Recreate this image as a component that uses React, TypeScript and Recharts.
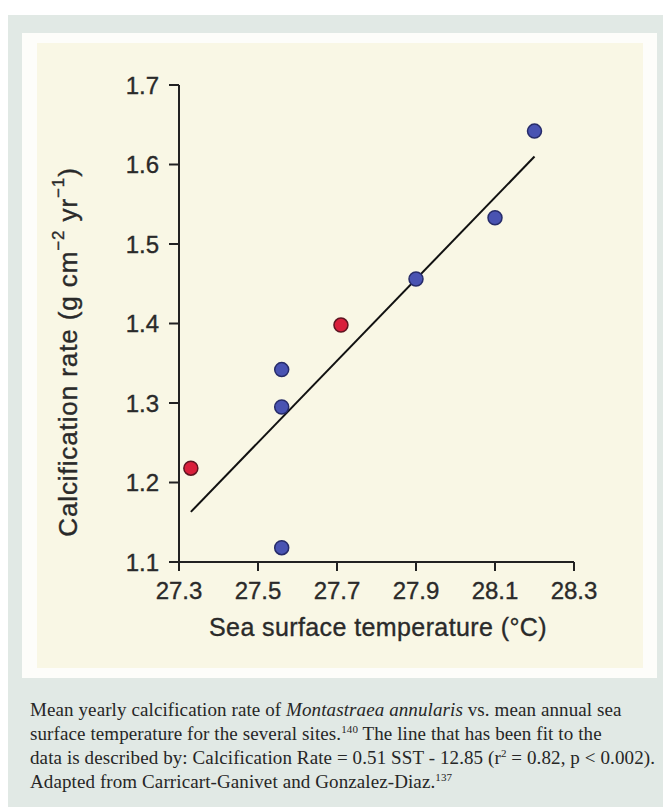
import { ScatterChart, Scatter, XAxis, YAxis, ReferenceLine } from "recharts";

// site values
const sstBlue = [27.56, 27.56, 27.56, 27.9, 28.1, 28.2];
const rateBlue = [1.342, 1.295, 1.118, 1.456, 1.533, 1.642];
const sstRed = [27.33, 27.71];
const rateRed = [1.218, 1.398];
// ends of the fitted line
const fitSst = [27.33, 28.2];
const fitRate = [1.163, 1.61];

const xTicks = [27.3, 27.5, 27.7, 27.9, 28.1, 28.3];
const yTicks = [1.1, 1.2, 1.3, 1.4, 1.5, 1.6, 1.7];

const blueData = sstBlue.map((x, i) => ({ x, y: rateBlue[i] }));
const redData = sstRed.map((x, i) => ({ x, y: rateRed[i] }));

const axisFont = "'Liberation Sans', Arial, sans-serif";
const ink = "#2a2a2a";

const dot = (fill: string, stroke: string) => (p: any) =>
  <circle cx={p.cx} cy={p.cy} r={7} fill={fill} stroke={stroke} strokeWidth={1.5} />;

const yTitle = () => (
  <text
    x={31}
    y={309}
    transform="rotate(-90 31 309)"
    textAnchor="middle"
    dominantBaseline="central"
    fontFamily={axisFont}
    fontSize={26}
    letterSpacing={0.9}
    fill={ink}
    stroke={ink}
    strokeWidth={0.35}
  >
    Calcification rate (g cm
    <tspan dy={-10} fontSize={17}>−2</tspan>
    <tspan dy={10}> yr</tspan>
    <tspan dy={-10} fontSize={17}>−1</tspan>
    <tspan dy={10}>)</tspan>
  </text>
);

const xTitle = () => (
  <text
    x={341}
    y={593}
    textAnchor="middle"
    fontFamily={axisFont}
    fontSize={25}
    letterSpacing={0.4}
    fill={ink}
    stroke={ink}
    strokeWidth={0.35}
  >
    Sea surface temperature (°C)
  </text>
);

const tickStyle = { fill: ink, stroke: ink, strokeWidth: 0.35, fontSize: 24, fontFamily: axisFont };

export default function App() {
  return (
    <div style={{ position: "absolute", left: 0, top: 0, width: 663, height: 807, background: "#fff" }}>
      <div style={{ position: "absolute", left: 8, top: 15, width: 655, height: 792, background: "#e1e9e5" }} />
      <div style={{ position: "absolute", left: 22, top: 33, width: 635, height: 645, background: "#fdfdfa" }} />
      <div style={{ position: "absolute", left: 37, top: 43, width: 606, height: 625, background: "#f9f7e5" }}>
        <ScatterChart width={606} height={625} margin={{ top: 42, right: 69, bottom: 26, left: 27 }}>
          <XAxis
            type="number"
            dataKey="x"
            domain={[27.3, 28.3]}
            ticks={xTicks}
            tickFormatter={(v: number) => v.toFixed(1)}
            height={80}
            tickSize={9}
            tickMargin={11}
            axisLine={{ stroke: "#222", strokeWidth: 2 }}
            tickLine={{ stroke: "#222", strokeWidth: 2 }}
            tick={tickStyle}
            label={xTitle}
          />
          <YAxis
            type="number"
            dataKey="y"
            domain={[1.1, 1.7]}
            ticks={yTicks}
            tickFormatter={(v: number) => v.toFixed(1)}
            width={115}
            tickSize={10}
            tickMargin={10}
            axisLine={{ stroke: "#222", strokeWidth: 2 }}
            tickLine={{ stroke: "#222", strokeWidth: 2 }}
            tick={tickStyle}
            label={yTitle}
          />
          <ReferenceLine
            segment={[
              { x: fitSst[0], y: fitRate[0] },
              { x: fitSst[1], y: fitRate[1] },
            ]}
            stroke="#111"
            strokeWidth={2}
            ifOverflow="visible"
          />
          <Scatter data={blueData} isAnimationActive={false} shape={dot("#4953b2", "#272c6a")} />
          <Scatter data={redData} isAnimationActive={false} shape={dot("#d91f3b", "#5e1521")} />
        </ScatterChart>
      </div>
      <div
        style={{
          position: "absolute",
          left: 30,
          top: 698,
          fontFamily: "'Liberation Serif', 'DejaVu Serif', serif",
          fontSize: 19,
          letterSpacing: 0.1,
          lineHeight: "24px",
          color: "#262626",
          whiteSpace: "nowrap",
        }}
      >
        <div>
          Mean yearly calcification rate of <i>Montastraea annularis</i> vs. mean annual sea
        </div>
        <div>
          surface temperature for the several sites.<sup style={{ fontSize: 11, lineHeight: 0 }}>140</sup> The line
          that has been fit to the
        </div>
        <div>
          data is described by: Calcification Rate = 0.51 SST - 12.85 (r
          <sup style={{ fontSize: 11, lineHeight: 0 }}>2</sup> = 0.82, p &lt; 0.002).
        </div>
        <div>
          Adapted from Carricart-Ganivet and Gonzalez-Diaz.<sup style={{ fontSize: 11, lineHeight: 0 }}>137</sup>
        </div>
      </div>
    </div>
  );
}
